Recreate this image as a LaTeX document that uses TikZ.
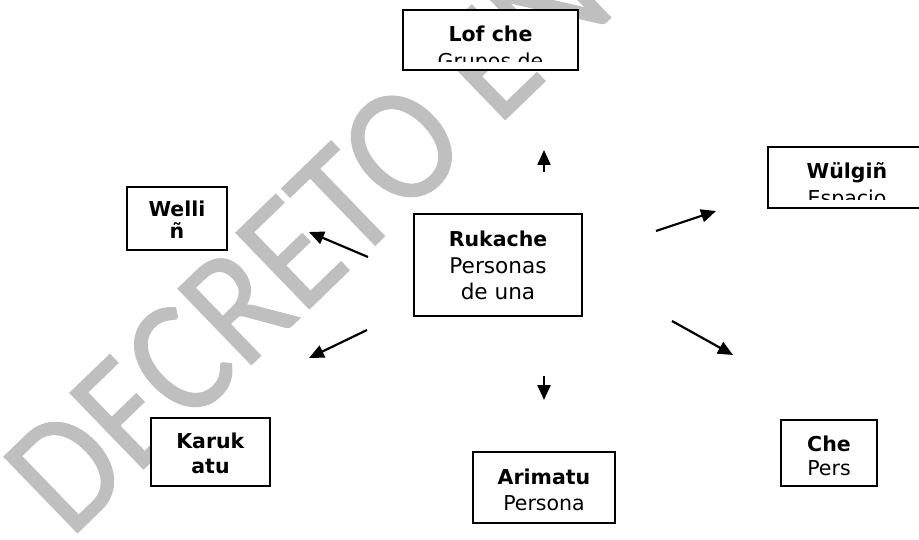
\documentclass[tikz,border=0pt]{standalone}
\usepackage{fontspec}
\setmainfont{DejaVu Sans}
\newfontfamily\marcafont[FakeBold=0.6]{Carlito}
\usetikzlibrary{arrows.meta, positioning}
\tikzset{caja/.style={draw, line width=2.2pt, fill=white, inner sep=0pt}}
\tikzset{texto/.style={align=center, anchor=base, inner sep=0pt, font=\fontsize{20.5}{26.5}\selectfont}}
\tikzset{flecha/.style={line width=2.2pt, -{Triangle[length=15pt,width=13pt]}}}

\begin{document}
\begin{tikzpicture}[x=1pt, y=-1pt]
\useasboundingbox (0,0) rectangle (919,540);
\clip (0,0) rectangle (919,540);
% marca de agua
\node[rotate=44, xscale=0.9, anchor=base west, inner sep=0pt, text=black!25,
  font=\marcafont\fontsize{165}{165}\selectfont] (marca) at (70,540) {DECRETO EN};
% cajas
\node[caja, minimum width=175pt, minimum height=60pt] (lofche) at (490.5,40) {};
\node[caja, minimum width=168pt, minimum height=102pt] (rukache) at (498,265) {};
\node[caja, minimum width=100pt, minimum height=63pt] (wellin) at (177,218.5) {};
\node[caja, minimum width=158pt, minimum height=61pt] (wulgin) at (847,177.5) {};
\node[caja, minimum width=119pt, minimum height=68pt] (karukatu) at (210.5,452) {};
\node[caja, minimum width=142pt, minimum height=71pt] (arimatu) at (544,487.5) {};
\node[caja, minimum width=96pt, minimum height=66pt] (che) at (829,453) {};
% textos (base = ultima linea)
\begin{scope}
\clip (lofche.north west) rectangle ([yshift=10pt]lofche.south east);
\node[texto] (tlofche) at ([yshift=-59.5pt]lofche.north) {\textbf{Lof che}\\Grupos de};
\end{scope}
\node[texto] (trukache) at ([yshift=-87pt]rukache.north)
  {\textbf{Rukache}\\[0.5pt]{\fontsize{21.6}{26.5}\selectfont Personas}\\{\fontsize{21.6}{26.5}\selectfont de una}};
\node[texto] (twellin) at ([yshift=-53pt]wellin.north) {\textbf{Welli}\\[-4.5pt]\textbf{ñ}};
\begin{scope}
\clip (wulgin.north west) rectangle ([yshift=10pt]wulgin.south east);
\node[texto] (twulgin) at ([yshift=-59.5pt]wulgin.north) {\textbf{Wülgiñ}\\Espacio};
\end{scope}
\node[texto] (tkarukatu) at ([yshift=-57pt]karukatu.north) {\textbf{Karuk}\\[-1.5pt]\textbf{atu}};
\node[texto] (tarimatu) at ([yshift=-60pt]arimatu.north) {\textbf{Arimatu}\\[-0.5pt]Persona};
\node[texto] (tche) at ([yshift=-57pt]che.north) {\textbf{Che}\\[-2.5pt]Pers};
% flechas
\coordinate (a1) at (544,172); \coordinate (b1) at (544,150);
\coordinate (a2) at (544,376); \coordinate (b2) at (544,400);
\coordinate (a3) at (368,257); \coordinate (b3) at (309,232);
\coordinate (a4) at (367,330); \coordinate (b4) at (309,358);
\coordinate (a5) at (656,231); \coordinate (b5) at (716,211);
\coordinate (a6) at (672,321); \coordinate (b6) at (733,355);
\foreach \i in {1,...,6}
  \draw[flecha] (a\i) -- (b\i);
\end{tikzpicture}
\end{document}
